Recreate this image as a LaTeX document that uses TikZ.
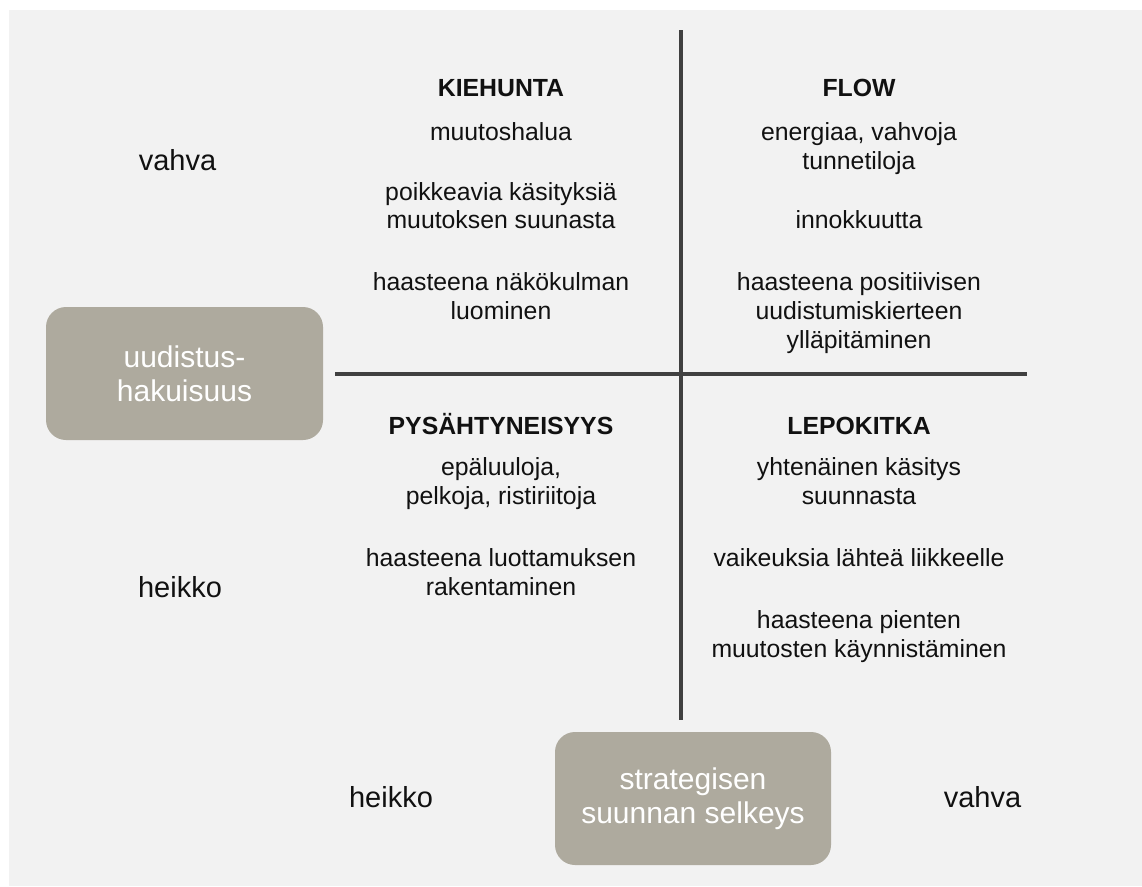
\documentclass[tikz,border=0pt]{standalone}
\usepackage{fontspec}
\setmainfont{Liberation Sans}
\definecolor{panel}{HTML}{F2F2F2}
\definecolor{axis}{HTML}{404040}
\definecolor{boxfill}{HTML}{AEAA9E}
\definecolor{ink}{HTML}{111111}
\begin{document}
\begin{tikzpicture}[x=1pt,y=-1pt,
  axisline/.style={draw=axis,line width=4pt},
  labelbox/.style={fill=boxfill,rounded corners=20pt,text=white,align=center,
    font=\fontsize{30}{34}\selectfont,inner sep=0pt},
  body/.style={anchor=base,text=ink,inner sep=0pt,font=\fontsize{24.8}{29}\selectfont},
  head/.style={body,font=\fontsize{24.8}{29}\selectfont\bfseries},
  scaleend/.style={anchor=base,text=ink,inner sep=0pt,font=\fontsize{29}{34}\selectfont}]
  % canvas and panel
  \useasboundingbox (0,0) rectangle (1142,886);
  \fill[white] (0,0) rectangle (1142,886);
  \fill[panel] (9,10) rectangle (1142,886);

  % axes
  \coordinate (vtop) at (681,30);
  \coordinate (vbot) at (681,720);
  \coordinate (hl) at (335,374);
  \coordinate (hr) at (1027,374);
  \draw[axisline] (vtop) -- (vbot);
  \draw[axisline] (hl) -- (hr);

  % axis title boxes
  \node[labelbox,minimum width=277pt,minimum height=133pt] (yaxis) at (184.5,373.5)
    {uudistus-\\hakuisuus};
  \node[labelbox,minimum width=276pt,minimum height=133pt] (xaxis) at (693,798.5)
    {strategisen\\suunnan selkeys};

  % scale ends
  \node[scaleend] (ystrong) at (177.5,170) {vahva};
  \node[scaleend] (yweak) at (180,597) {heikko};
  \node[scaleend] (xweak) at (391,807) {heikko};
  \node[scaleend] (xstrong) at (982.5,807) {vahva};

  % top-left quadrant
  \node[head] (tl0) at (501,96) {KIEHUNTA};
  \foreach \y/\t [count=\i] in {140/muutoshalua, 200/poikkeavia käsityksiä,
      228/muutoksen suunasta, 290/haasteena näkökulman, 319/luominen}
    \node[body] (tl\i) at (501,\y) {\t};

  % top-right quadrant
  \node[head] (tr0) at (859,96) {FLOW};
  \foreach \y/\t [count=\i] in {140/{energiaa, vahvoja}, 169/tunnetiloja,
      228/innokkuutta, 290/haasteena positiivisen, 319/uudistumiskierteen,
      348/ylläpitäminen}
    \node[body] (tr\i) at (859,\y) {\t};

  % bottom-left quadrant
  \node[head] (bl0) at (501,434) {PYSÄHTYNEISYYS};
  \foreach \y/\t [count=\i] in {475/{epäluuloja,}, 504/{pelkoja, ristiriitoja},
      566/haasteena luottamuksen, 595/rakentaminen}
    \node[body] (bl\i) at (501,\y) {\t};

  % bottom-right quadrant
  \node[head] (br0) at (859,434) {LEPOKITKA};
  \foreach \y/\t [count=\i] in {475/yhtenäinen käsitys, 504/suunnasta,
      566/vaikeuksia lähteä liikkeelle, 628/haasteena pienten,
      657/muutosten käynnistäminen}
    \node[body] (br\i) at (859,\y) {\t};
\end{tikzpicture}
\end{document}
